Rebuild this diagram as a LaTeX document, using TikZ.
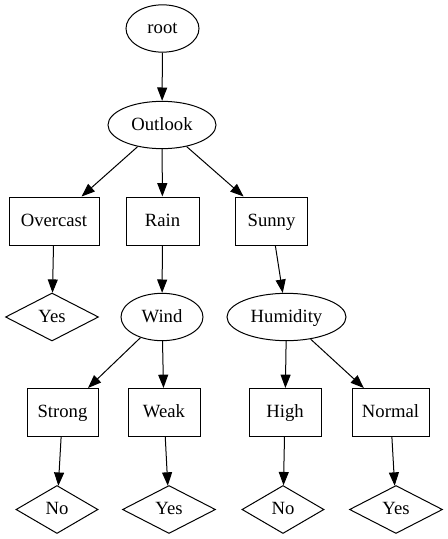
\documentclass[tikz,border=0pt]{standalone}
\usepackage{fontspec}
\setmainfont{Liberation Serif}
\usetikzlibrary{shapes.geometric, arrows.meta}

\begin{document}
\begin{tikzpicture}[x=0.75pt, y=-0.75pt,
    every node/.style={font=\fontsize{14}{16}\selectfont, inner sep=0pt,
        text height=10.5pt, text depth=3pt, line width=0.75pt},
    ellnode/.style={draw, ellipse, minimum height=35.5pt},
    boxnode/.style={draw, rectangle, minimum height=36pt},
    leafnode/.style={draw, diamond, minimum height=36pt},
    edge/.style={line width=0.75pt, -{Triangle[length=10pt,width=7.5pt]}}]
    \useasboundingbox (0,0) rectangle (448,539);
    % attribute nodes
    \node[ellnode, minimum width=54.75pt] (root) at (162.5,28.5) {root};
    \node[ellnode, minimum width=81pt] (outlook) at (162,125) {Outlook};
    \node[ellnode, minimum width=61.5pt] (wind) at (162,317) {Wind};
    \node[ellnode, minimum width=89.25pt] (humidity) at (286.5,317) {Humidity};
    % values
    \node[boxnode, minimum width=67.5pt] (overcast) at (54,221) {Overcast};
    \node[boxnode, minimum width=54.75pt] (rain) at (162.5,221) {Rain};
    \node[boxnode, minimum width=54pt] (sunny) at (271.5,221) {Sunny};
    \node[boxnode, minimum width=53.25pt] (strong) at (62.5,412.5) {Strong};
    \node[boxnode, minimum width=54pt] (weak) at (164,412.5) {Weak};
    \node[boxnode, minimum width=54pt] (high) at (285,412.5) {High};
    \node[boxnode, minimum width=57.75pt] (normal) at (390.5,412.5) {Normal};
    % leaves
    \node[leafnode, minimum width=69.75pt] (yesA) at (52,317) {Yes};
    \node[leafnode, minimum width=61.5pt] (noA) at (57,509.5) {No};
    \node[leafnode, minimum width=69.75pt] (yesB) at (169,509.5) {Yes};
    \node[leafnode, minimum width=61.5pt] (noB) at (283,509.5) {No};
    \node[leafnode, minimum width=69.75pt] (yesC) at (396,509.5) {Yes};
    % edges
    \foreach \a/\b in {root/outlook, outlook/overcast, outlook/rain, outlook/sunny,
        overcast/yesA, rain/wind, sunny/humidity, wind/strong, wind/weak,
        humidity/high, humidity/normal, strong/noA, weak/yesB, high/noB, normal/yesC}
        \draw[edge] (\a) -- (\b);
\end{tikzpicture}
\end{document}
